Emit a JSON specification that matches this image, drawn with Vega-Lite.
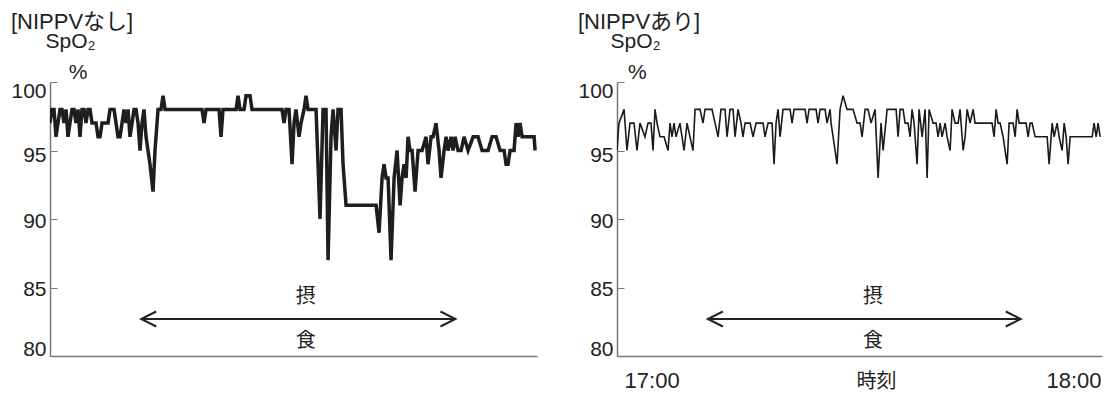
{
"$schema": "https://vega.github.io/schema/vega-lite/v6.json",
"padding": {"left": 10, "top": 11, "right": 2, "bottom": 2},
"background": "white",
"config": {"view": {"stroke": null}, "font": "Liberation Sans, Noto Sans CJK JP", "concat": {"spacing": 40}},
"datasets": {
"one": [{}],
"left": [{"t":-4.92,"v":97},{"t":-4.64,"v":98},{"t":-4.35,"v":98},{"t":-4.07,"v":96},{"t":-3.79,"v":97},{"t":-3.50,"v":98},{"t":-3.22,"v":98},{"t":-2.94,"v":97},{"t":-2.65,"v":98},{"t":-2.37,"v":96},{"t":-2.09,"v":97},{"t":-1.80,"v":98},{"t":-1.52,"v":98},{"t":-1.24,"v":97},{"t":-0.95,"v":98},{"t":-0.67,"v":96},{"t":-0.39,"v":98},{"t":-0.10,"v":98},{"t":0.18,"v":97},{"t":0.46,"v":98},{"t":0.75,"v":98},{"t":1.03,"v":97},{"t":1.31,"v":97},{"t":1.60,"v":97},{"t":1.88,"v":96},{"t":2.16,"v":96},{"t":2.45,"v":97},{"t":2.73,"v":97},{"t":3.01,"v":97},{"t":3.30,"v":97},{"t":3.58,"v":98},{"t":3.86,"v":98},{"t":4.15,"v":98},{"t":4.43,"v":97},{"t":4.71,"v":96},{"t":5.00,"v":96},{"t":5.28,"v":97},{"t":5.56,"v":98},{"t":5.85,"v":97},{"t":6.13,"v":98},{"t":6.41,"v":96},{"t":6.70,"v":97},{"t":6.98,"v":98},{"t":7.26,"v":98},{"t":7.55,"v":97},{"t":7.83,"v":95},{"t":8.11,"v":97},{"t":8.39,"v":98},{"t":8.68,"v":96},{"t":8.96,"v":95},{"t":9.24,"v":94},{"t":9.67,"v":92},{"t":9.95,"v":95},{"t":10.38,"v":98},{"t":10.80,"v":98},{"t":11.09,"v":99},{"t":11.37,"v":98},{"t":16.61,"v":98},{"t":16.89,"v":97},{"t":17.18,"v":98},{"t":19.02,"v":98},{"t":19.30,"v":96},{"t":19.58,"v":98},{"t":21.43,"v":98},{"t":21.71,"v":99},{"t":21.99,"v":98},{"t":22.56,"v":98},{"t":22.84,"v":99},{"t":23.41,"v":99},{"t":23.69,"v":98},{"t":27.94,"v":98},{"t":28.22,"v":97},{"t":28.51,"v":98},{"t":28.93,"v":98},{"t":29.36,"v":94},{"t":29.64,"v":97},{"t":29.92,"v":98},{"t":30.35,"v":96},{"t":30.63,"v":97},{"t":31.06,"v":98},{"t":31.34,"v":99},{"t":31.62,"v":98},{"t":32.19,"v":98},{"t":32.76,"v":98},{"t":33.32,"v":90},{"t":33.75,"v":98},{"t":34.17,"v":98},{"t":34.46,"v":87},{"t":34.88,"v":96},{"t":35.17,"v":98},{"t":35.59,"v":95},{"t":35.87,"v":98},{"t":36.30,"v":98},{"t":36.58,"v":94},{"t":37.01,"v":91},{"t":41.26,"v":91},{"t":41.68,"v":89},{"t":42.11,"v":93},{"t":42.39,"v":94},{"t":42.67,"v":93},{"t":42.96,"v":93},{"t":43.38,"v":87},{"t":43.81,"v":93},{"t":44.23,"v":95},{"t":44.66,"v":91},{"t":44.94,"v":93},{"t":45.22,"v":94},{"t":45.51,"v":93},{"t":45.79,"v":96},{"t":46.07,"v":95},{"t":46.36,"v":95},{"t":46.78,"v":92},{"t":47.21,"v":95},{"t":47.77,"v":95},{"t":48.34,"v":96},{"t":48.62,"v":94},{"t":49.05,"v":96},{"t":49.33,"v":96},{"t":49.75,"v":97},{"t":50.18,"v":95},{"t":50.46,"v":93},{"t":50.89,"v":95},{"t":51.17,"v":96},{"t":51.45,"v":95},{"t":51.88,"v":96},{"t":52.16,"v":95},{"t":52.45,"v":96},{"t":52.87,"v":95},{"t":53.30,"v":95},{"t":53.72,"v":96},{"t":54.29,"v":95},{"t":55.00,"v":96},{"t":55.70,"v":96},{"t":56.27,"v":95},{"t":57.12,"v":95},{"t":57.69,"v":96},{"t":58.25,"v":96},{"t":58.82,"v":95},{"t":59.39,"v":95},{"t":59.67,"v":94},{"t":59.95,"v":94},{"t":60.24,"v":95},{"t":60.80,"v":95},{"t":61.09,"v":97},{"t":61.37,"v":96},{"t":61.65,"v":97},{"t":61.94,"v":96},{"t":62.79,"v":96},{"t":63.64,"v":96},{"t":63.78,"v":95}],
"right": [{"t":-4.92,"v":95},{"t":-4.64,"v":97},{"t":-3.92,"v":98},{"t":-3.50,"v":95},{"t":-3.07,"v":97},{"t":-2.50,"v":97},{"t":-2.08,"v":95},{"t":-1.65,"v":97},{"t":-0.94,"v":96},{"t":-0.51,"v":97},{"t":-0.08,"v":97},{"t":0.20,"v":95},{"t":0.49,"v":98},{"t":0.77,"v":97},{"t":1.20,"v":96},{"t":1.77,"v":96},{"t":2.34,"v":95},{"t":2.62,"v":97},{"t":2.90,"v":96},{"t":3.19,"v":97},{"t":3.47,"v":96},{"t":4.04,"v":97},{"t":4.61,"v":95},{"t":5.04,"v":97},{"t":5.46,"v":96},{"t":5.89,"v":95},{"t":6.18,"v":98},{"t":6.89,"v":98},{"t":7.31,"v":97},{"t":7.60,"v":98},{"t":8.02,"v":98},{"t":8.59,"v":98},{"t":9.45,"v":96},{"t":9.87,"v":98},{"t":10.44,"v":98},{"t":10.73,"v":96},{"t":11.15,"v":98},{"t":11.58,"v":98},{"t":11.87,"v":96},{"t":12.29,"v":98},{"t":12.72,"v":97},{"t":13.00,"v":96},{"t":13.29,"v":97},{"t":14.00,"v":97},{"t":14.43,"v":96},{"t":14.85,"v":97},{"t":15.85,"v":97},{"t":16.13,"v":96},{"t":16.56,"v":97},{"t":17.13,"v":97},{"t":17.41,"v":94},{"t":17.70,"v":97},{"t":17.98,"v":98},{"t":18.27,"v":96},{"t":18.69,"v":98},{"t":19.69,"v":98},{"t":19.97,"v":97},{"t":20.26,"v":98},{"t":21.82,"v":98},{"t":22.11,"v":97},{"t":22.39,"v":98},{"t":23.39,"v":98},{"t":23.67,"v":97},{"t":23.96,"v":98},{"t":24.67,"v":98},{"t":24.95,"v":97},{"t":25.38,"v":98},{"t":25.52,"v":97},{"t":25.81,"v":96},{"t":26.37,"v":94},{"t":26.80,"v":98},{"t":27.23,"v":99},{"t":27.80,"v":98},{"t":28.65,"v":98},{"t":29.22,"v":97},{"t":29.65,"v":97},{"t":29.93,"v":96},{"t":30.36,"v":98},{"t":30.78,"v":98},{"t":31.21,"v":97},{"t":31.78,"v":98},{"t":32.21,"v":93},{"t":32.63,"v":97},{"t":32.92,"v":95},{"t":33.49,"v":98},{"t":34.34,"v":98},{"t":34.77,"v":98},{"t":35.05,"v":96},{"t":35.34,"v":98},{"t":35.76,"v":98},{"t":36.05,"v":97},{"t":36.47,"v":97},{"t":36.76,"v":96},{"t":37.04,"v":98},{"t":37.33,"v":97},{"t":37.75,"v":94},{"t":38.04,"v":98},{"t":38.47,"v":96},{"t":38.89,"v":98},{"t":39.18,"v":93},{"t":39.46,"v":98},{"t":40.03,"v":97},{"t":40.46,"v":97},{"t":40.74,"v":96},{"t":41.03,"v":97},{"t":41.31,"v":96},{"t":41.74,"v":97},{"t":42.02,"v":96},{"t":42.45,"v":95},{"t":42.73,"v":98},{"t":43.16,"v":97},{"t":43.59,"v":97},{"t":43.87,"v":98},{"t":44.30,"v":95},{"t":44.58,"v":96},{"t":44.87,"v":98},{"t":45.29,"v":97},{"t":45.72,"v":98},{"t":46.00,"v":97},{"t":48.42,"v":97},{"t":48.71,"v":96},{"t":48.99,"v":98},{"t":49.28,"v":97},{"t":49.56,"v":97},{"t":49.99,"v":96},{"t":50.56,"v":94},{"t":50.84,"v":97},{"t":51.41,"v":97},{"t":51.70,"v":96},{"t":51.98,"v":98},{"t":52.26,"v":97},{"t":53.26,"v":97},{"t":53.54,"v":96},{"t":53.83,"v":97},{"t":54.11,"v":97},{"t":54.54,"v":96},{"t":54.82,"v":96},{"t":56.25,"v":96},{"t":56.53,"v":94},{"t":56.96,"v":97},{"t":57.24,"v":96},{"t":57.67,"v":97},{"t":57.95,"v":96},{"t":58.38,"v":95},{"t":58.67,"v":97},{"t":58.95,"v":96},{"t":59.23,"v":94},{"t":59.52,"v":96},{"t":62.65,"v":96},{"t":62.93,"v":97},{"t":63.22,"v":96},{"t":63.50,"v":97},{"t":63.79,"v":96}]
},
"hconcat": [
{
"width": 487, "height": 274,
"title": {"text": "[NIPPVなし]", "anchor": "start", "frame": "bounds", "fontSize": 22, "fontWeight": "normal", "color": "#222", "offset": -4},
"layer": [
{"data": {"name": "left"}, "mark": {"type": "line", "color": "#1e1e1e", "strokeWidth": 3.5, "clip": true},
 "encoding": {
  "x": {"field": "t", "type": "quantitative", "scale": {"domain": [-4.92, 64.05], "nice": false, "zero": false},
        "axis": {"title": null, "labels": false, "ticks": false, "grid": false, "domainColor": "#777", "domainWidth": 1.5}},
  "y": {"field": "v", "type": "quantitative", "scale": {"domain": [80, 100], "nice": false, "zero": false},
        "axis": {"values": [80, 85, 90, 95, 100], "grid": false, "tickSize": -7, "tickColor": "#777", "domainColor": "#777", "domainWidth": 1.5, "labelFontSize": 21, "labelPadding": 11, "labelColor": "#222",
                 "labelOffset": {"condition": [{"test": "datum.value == 100", "value": 9}, {"test": "datum.value == 95", "value": 5}, {"test": "datum.value == 80", "value": -7}], "value": 2},
                 "title": ["SpO₂", "\u200b\u00a0\u00a0\u00a0\u00a0%"], "titleAngle": 0, "titleAlign": "left", "titleBaseline": "alphabetic", "titleX": -5, "titleY": -35, "titleFontSize": 21, "titleFontWeight": "normal", "titleLineHeight": 31, "titleColor": "#222"}}
 }},
{"data": {"name": "one"}, "mark": {"type": "rule", "color": "#222", "strokeWidth": 2}, "encoding": {"x": {"datum": 8, "type": "quantitative"}, "x2": {"datum": 52.5}, "y": {"datum": 82.7, "type": "quantitative"}}},
{"data": {"name": "one"}, "mark": {"type": "point", "shape": "M2,-1L0,0L2,1", "size": 225, "filled": false, "stroke": "#222", "strokeWidth": 2, "opacity": 1}, "encoding": {"x": {"datum": 8, "type": "quantitative"}, "y": {"datum": 82.7, "type": "quantitative"}}},
{"data": {"name": "one"}, "mark": {"type": "point", "shape": "M-2,-1L0,0L-2,1", "size": 225, "filled": false, "stroke": "#222", "strokeWidth": 2, "opacity": 1}, "encoding": {"x": {"datum": 52.5, "type": "quantitative"}, "y": {"datum": 82.7, "type": "quantitative"}}},
{"data": {"name": "one"}, "mark": {"type": "text", "text": "摂", "fontSize": 20, "color": "#222", "font": "Noto Sans CJK JP"}, "encoding": {"x": {"datum": 31.3, "type": "quantitative"}, "y": {"datum": 84.3, "type": "quantitative"}}},
{"data": {"name": "one"}, "mark": {"type": "text", "text": "食", "fontSize": 20, "color": "#222", "font": "Noto Sans CJK JP"}, "encoding": {"x": {"datum": 31.3, "type": "quantitative"}, "y": {"datum": 81.1, "type": "quantitative"}}}
]
},
{
"width": 485, "height": 274,
"title": {"text": "[NIPPVあり]", "anchor": "start", "frame": "bounds", "fontSize": 22, "fontWeight": "normal", "color": "#222", "offset": -4},
"layer": [
{"data": {"name": "right"}, "mark": {"type": "line", "color": "#1a1a1a", "strokeWidth": 1.6, "clip": true},
 "encoding": {
  "x": {"field": "t", "type": "quantitative", "scale": {"domain": [-4.92, 64.05], "nice": false, "zero": false},
        "axis": {"values": [0, 60], "labelExpr": "datum.value == 0 ? '17:00' : '18:00'", "ticks": false, "grid": false, "labelFontSize": 22, "labelPadding": 14, "labelColor": "#222", "labelFlush": false, "domainColor": "#777", "domainWidth": 1.5,
                 "title": "時刻", "titleX": 259, "titleY": 31, "titleBaseline": "alphabetic", "titleFontSize": 20, "titleFontWeight": "normal", "titleColor": "#222"}},
  "y": {"field": "v", "type": "quantitative", "scale": {"domain": [80, 100], "nice": false, "zero": false},
        "axis": {"values": [80, 85, 90, 95, 100], "grid": false, "tickSize": -7, "tickColor": "#777", "domainColor": "#777", "domainWidth": 1.5, "labelFontSize": 21, "labelPadding": 11, "labelColor": "#222",
                 "labelOffset": {"condition": [{"test": "datum.value == 100", "value": 9}, {"test": "datum.value == 95", "value": 5}, {"test": "datum.value == 80", "value": -7}], "value": 2},
                 "title": ["SpO₂", "\u200b\u00a0\u00a0\u00a0%"], "titleAngle": 0, "titleAlign": "left", "titleBaseline": "alphabetic", "titleX": -7, "titleY": -35, "titleFontSize": 21, "titleFontWeight": "normal", "titleLineHeight": 31, "titleColor": "#222"}}
 }},
{"data": {"name": "one"}, "mark": {"type": "rule", "color": "#222", "strokeWidth": 2}, "encoding": {"x": {"datum": 8, "type": "quantitative"}, "x2": {"datum": 52.5}, "y": {"datum": 82.7, "type": "quantitative"}}},
{"data": {"name": "one"}, "mark": {"type": "point", "shape": "M2,-1L0,0L2,1", "size": 225, "filled": false, "stroke": "#222", "strokeWidth": 2, "opacity": 1}, "encoding": {"x": {"datum": 8, "type": "quantitative"}, "y": {"datum": 82.7, "type": "quantitative"}}},
{"data": {"name": "one"}, "mark": {"type": "point", "shape": "M-2,-1L0,0L-2,1", "size": 225, "filled": false, "stroke": "#222", "strokeWidth": 2, "opacity": 1}, "encoding": {"x": {"datum": 52.5, "type": "quantitative"}, "y": {"datum": 82.7, "type": "quantitative"}}},
{"data": {"name": "one"}, "mark": {"type": "text", "text": "摂", "fontSize": 20, "color": "#222", "font": "Noto Sans CJK JP"}, "encoding": {"x": {"datum": 31.5, "type": "quantitative"}, "y": {"datum": 84.3, "type": "quantitative"}}},
{"data": {"name": "one"}, "mark": {"type": "text", "text": "食", "fontSize": 20, "color": "#222", "font": "Noto Sans CJK JP"}, "encoding": {"x": {"datum": 31.5, "type": "quantitative"}, "y": {"datum": 81.1, "type": "quantitative"}}}
]
}
]
}
